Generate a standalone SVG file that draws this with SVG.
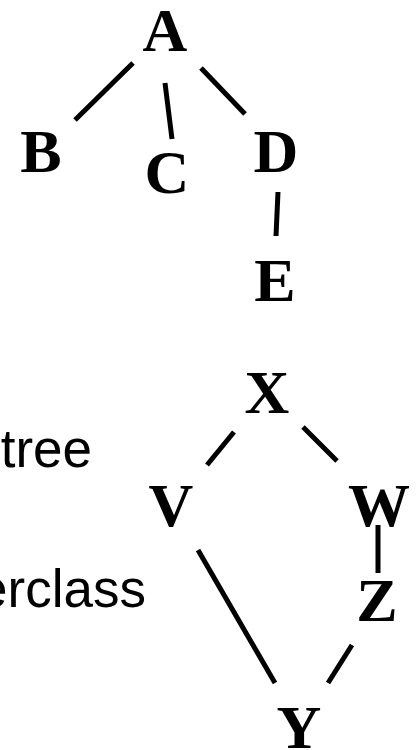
<svg xmlns="http://www.w3.org/2000/svg" width="417" height="750" viewBox="0 0 417 750">
<style>
.n{font-family:"Liberation Serif","Times New Roman",serif;font-weight:bold;font-size:62px;fill:#000;text-anchor:middle}
.t{font-family:"Liberation Sans",Arial,sans-serif;font-size:53px;fill:#000;text-anchor:end}
.e{stroke:#000;stroke-width:5;fill:none}
</style>
<rect width="417" height="750" fill="#fff"/>
<g id="labels">
<text class="t" x="92" y="467">tree</text>
<text class="t" x="146" y="607">erclass</text>
</g>
<g id="connectors">
<line class="e" x1="133" y1="63" x2="75" y2="120"/>
<line class="e" x1="165" y1="83" x2="172" y2="139"/>
<line class="e" x1="201" y1="68" x2="245" y2="114"/>
<line class="e" x1="278" y1="192" x2="276" y2="236"/>
<line class="e" x1="234" y1="432" x2="207" y2="465"/>
<line class="e" x1="303" y1="427" x2="337" y2="461"/>
<line class="e" x1="378" y1="525" x2="378" y2="573"/>
<line class="e" x1="198" y1="550" x2="275" y2="683"/>
<line class="e" x1="352" y1="645" x2="328" y2="683"/>
</g>
<g id="A"><text class="n" x="165" y="51">A</text></g>
<g id="B"><text class="n" x="41" y="172">B</text></g>
<g id="C"><text class="n" x="167" y="193">C</text></g>
<g id="D"><text class="n" x="276" y="172">D</text></g>
<g id="E"><text class="n" x="275" y="301">E</text></g>
<g id="X"><text class="n" x="267" y="413">X</text></g>
<g id="V"><text class="n" x="171" y="526">V</text></g>
<g id="W"><text class="n" x="379" y="526">W</text></g>
<g id="Z"><text class="n" x="377" y="621">Z</text></g>
<g id="Y"><text class="n" x="299" y="748">Y</text></g>
</svg>
